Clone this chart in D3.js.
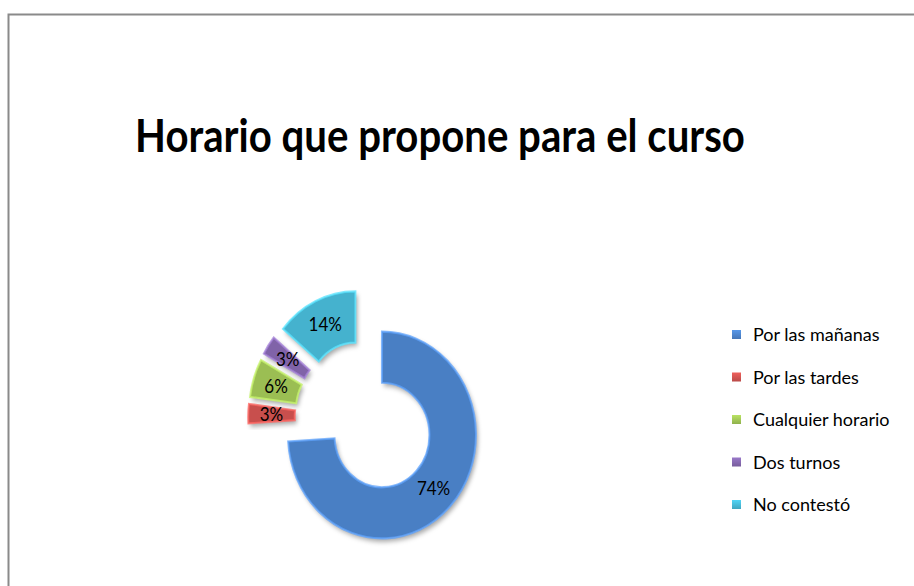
<!DOCTYPE html>
<html>
<head>
<meta charset="utf-8">
<script src="https://cdn.jsdelivr.net/npm/d3@7/dist/d3.min.js"></script>
<style>
  html, body { margin: 0; padding: 0; background: #ffffff; }
  svg { display: block; }
</style>
</head>
<body>
<script>
// Chart data
const categories = ["Por las mañanas", "Por las tardes", "Cualquier horario", "Dos turnos", "No contestó"];
const values = [74, 3, 6, 3, 14];
const colors = ["#4A7FC4", "#C8504D", "#9BBE53", "#8064A8", "#45B2CE"];
const title = "Horario que propone para el curso";

const W = 914, H = 586;
const svg = d3.select("body").append("svg").attr("width", W).attr("height", H);
const defs = svg.append("defs");

// soft drop shadow under each slice
const shadow = defs.append("filter").attr("id", "shadow")
  .attr("x", "-30%").attr("y", "-30%").attr("width", "160%").attr("height", "160%");
shadow.append("feDropShadow").attr("dx", 2).attr("dy", 3)
  .attr("stdDeviation", 2.2).attr("flood-color", "#000").attr("flood-opacity", 0.35);

// chart area border
svg.append("rect")
  .attr("x", 8.5).attr("y", 14.5).attr("width", 1200).attr("height", 1200)
  .attr("fill", "none").attr("stroke", "#8a8a8a").attr("stroke-width", 2);

// title, sized to its box width and slightly tall
const titleG = svg.append("g").attr("transform", "translate(440,152) scale(1,1.12)");
const titleText = titleG.append("text")
  .attr("x", 0).attr("y", 0)
  .attr("text-anchor", "middle")
  .attr("font-family", "Lato, 'Open Sans', sans-serif")
  .attr("font-weight", "bold")
  .attr("font-size", 32)
  .attr("fill", "#000")
  .text(title);
const tw = titleText.node().getComputedTextLength();
titleText.attr("font-size", 32 * 610 / tw);

// donut
const outerR = 94, innerR = 47.5, explode = 23;
const pie = d3.pie().sort(null).value(d => d.value).startAngle(0).endAngle(2 * Math.PI);
const arc = d3.arc().innerRadius(innerR).outerRadius(outerR);
const data = categories.map((c, i) => ({ name: c, value: values[i], color: colors[i] }));
const total = d3.sum(values);
const arcs = pie(data);

const donut = svg.append("g").attr("transform", "translate(365.2,417.7) scale(1,1.1)");

const slices = donut.selectAll("g.slice").data(arcs).enter().append("g")
  .attr("class", "slice")
  .attr("transform", d => {
    const a = (d.startAngle + d.endAngle) / 2;
    return `translate(${explode * Math.sin(a)},${-explode * Math.cos(a)})`;
  });

slices.append("path")
  .attr("d", arc)
  .attr("fill", d => d.data.color)
  .attr("filter", "url(#shadow)");

// light bevel along the edges
slices.append("path")
  .attr("d", arc)
  .attr("fill", "none")
  .attr("stroke", d => d3.color(d.data.color).brighter(0.7))
  .attr("stroke-width", 2)
  .attr("stroke-opacity", 0.75);

const labelArc = d3.arc().innerRadius((innerR + outerR) / 2).outerRadius((innerR + outerR) / 2);
slices.append("text")
  .attr("transform", d => `translate(${labelArc.centroid(d)})`)
  .attr("text-anchor", "middle")
  .attr("dy", "0.36em")
  .attr("font-family", "Lato, 'Open Sans', sans-serif")
  .attr("font-size", 17)
  .attr("fill", "#000")
  .text(d => Math.round(d.data.value / total * 100) + "%");

// legend
const legend = svg.append("g").attr("transform", "translate(732,335)");
const rowH = 42.5;
const items = legend.selectAll("g").data(data).enter().append("g")
  .attr("transform", (d, i) => `translate(0,${i * rowH})`);

data.forEach((d, i) => {
  const g = defs.append("linearGradient").attr("id", "lg" + i)
    .attr("x1", 0).attr("y1", 0).attr("x2", 0).attr("y2", 1);
  g.append("stop").attr("offset", "0%").attr("stop-color", d3.color(d.color).brighter(0.5));
  g.append("stop").attr("offset", "100%").attr("stop-color", d3.color(d.color).darker(0.2));
});

items.append("rect")
  .attr("x", 0).attr("y", -5).attr("width", 9).attr("height", 9)
  .attr("fill", (d, i) => `url(#lg${i})`);
items.append("text")
  .attr("x", 21).attr("y", 0).attr("dy", "0.36em")
  .attr("font-family", "Lato, 'Open Sans', sans-serif")
  .attr("font-size", 18)
  .attr("fill", "#000")
  .text(d => d.name);
</script>
</body>
</html>
